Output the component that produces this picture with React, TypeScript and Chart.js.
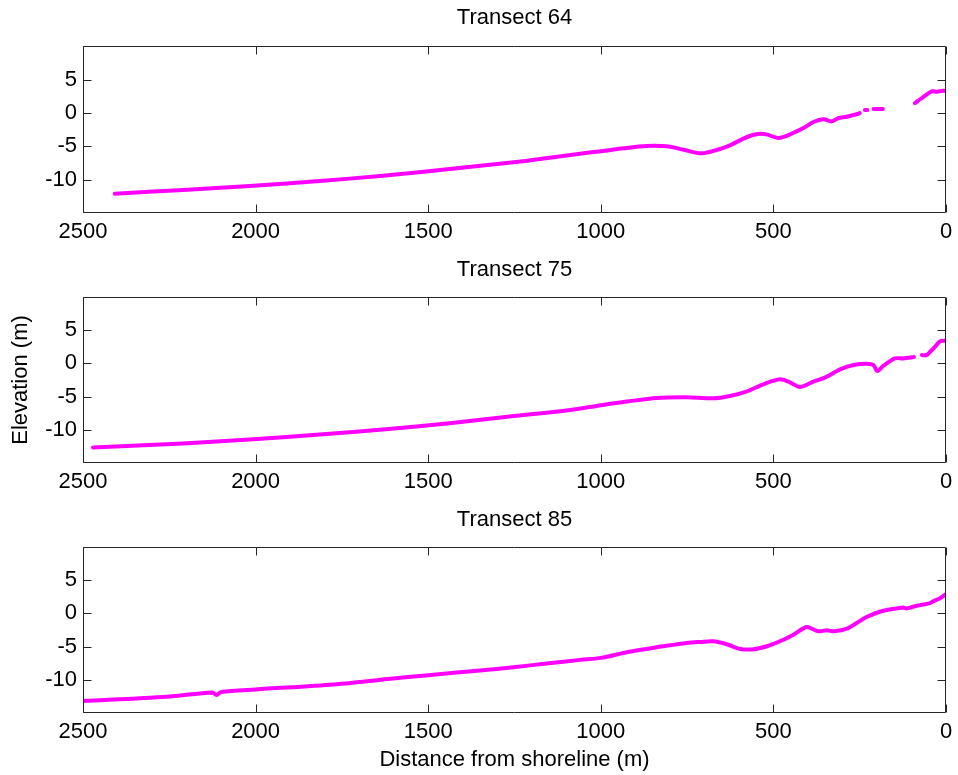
import React, { useEffect, useRef } from 'react';
import { Chart, registerables } from 'chart.js';

Chart.register(...registerables);

const FONT = '"Liberation Sans", Arial, Helvetica, sans-serif';
const LINE_COLOR = '#FF00FF';
const AXIS_COLOR = '#262626';

// Axis tick positions (distance in m, elevation in m)
const distanceTicks = [0, 500, 1000, 1500, 2000, 2500];
const elevationTicks = [-10, -5, 0, 5];

// Transect 64 profile (null marks a gap in the survey)
const dist64 = [2408, 2210, 2017, 1824, 1631, 1438, 1245, 1148, 1060, 993, 935, 867, 809, 760, 708, 655, 626, 587, 560, 539, 520, 486, 460, 437, 413, 384, 355, 331, 312, 288, 254, 250, 242, 235, 228, 220, 210, 183, 150, 90, 66, 41, 26, 0];
const elev64 = [-12.1, -11.55, -10.95, -10.25, -9.4, -8.4, -7.35, -6.7, -6.1, -5.7, -5.3, -4.95, -5.0, -5.5, -6.05, -5.4, -4.85, -3.85, -3.3, -3.1, -3.2, -3.75, -3.4, -2.85, -2.25, -1.35, -0.95, -1.25, -0.75, -0.55, -0.1, 0.0, null, 0.45, 0.45, null, 0.6, 0.6, null, 1.5, 2.4, 3.25, 3.2, 3.4];

// Transect 75 profile
const dist75 = [2471, 2210, 2017, 1824, 1631, 1438, 1245, 1100, 993, 925, 838, 751, 674, 626, 578, 529, 481, 452, 423, 384, 351, 307, 268, 230, 210, 199, 181, 148, 124, 93, 80, 70, 56, 46, 30, 17, 0];
const elev75 = [-12.65, -12.05, -11.45, -10.75, -9.95, -9.0, -7.9, -7.1, -6.25, -5.75, -5.2, -5.1, -5.25, -4.9, -4.25, -3.15, -2.4, -2.85, -3.55, -2.75, -2.15, -0.9, -0.25, -0.05, -0.25, -1.15, -0.35, 0.75, 0.75, 0.95, null, 1.25, 1.25, 1.75, 2.6, 3.35, 3.4];

// Transect 85 profile
const dist85 = [2500, 2257, 2125, 2113, 2100, 2000, 1774, 1582, 1500, 1350, 1253, 1157, 1060, 1000, 925, 867, 819, 751, 712, 674, 635, 596, 558, 519, 481, 442, 405, 389, 370, 346, 322, 283, 259, 230, 181, 123, 114, 85, 46, 38, 17, 0];
const elev85 = [-13.2, -12.55, -11.9, -12.3, -11.85, -11.45, -10.7, -9.7, -9.3, -8.6, -8.1, -7.55, -7.0, -6.7, -5.85, -5.35, -4.95, -4.45, -4.3, -4.2, -4.65, -5.35, -5.4, -4.95, -4.2, -3.2, -2.05, -2.3, -2.7, -2.55, -2.7, -2.2, -1.45, -0.55, 0.4, 0.9, 0.75, 1.15, 1.55, 1.8, 2.3, 2.9];

type Panel = {
  title: string;
  dist: number[];
  elev: (number | null)[];
  top: number;
  height: number;
  titlePad: { top: number; bottom: number };
  xHeight: number;
  yTitle?: string;
  xTitle?: string;
};

const panels: Panel[] = [
  { title: 'Transect 64', dist: dist64, elev: elev64, top: 0, height: 250, titlePad: { top: 5, bottom: 15 }, xHeight: 37 },
  { title: 'Transect 75', dist: dist75, elev: elev75, top: 250, height: 250, titlePad: { top: 7, bottom: 13.6 }, xHeight: 37, yTitle: 'Elevation (m)' },
  { title: 'Transect 85', dist: dist85, elev: elev85, top: 500, height: 275, titlePad: { top: 7, bottom: 13.6 }, xHeight: 62, xTitle: 'Distance from shoreline (m)' },
];

// Box around the plot area with inward-pointing tick marks on all four sides
const framePlugin = {
  id: 'frame',
  afterDatasetsDraw(chart: any) {
    const { ctx, chartArea: a, scales } = chart;
    const tick = 8;
    const l = Math.round(a.left) + 0.5;
    const r = Math.round(a.right) - 0.5;
    const t = Math.round(a.top) + 0.5;
    const b = Math.round(a.bottom) - 0.5;
    ctx.save();
    ctx.strokeStyle = AXIS_COLOR;
    ctx.lineWidth = 1;
    ctx.beginPath();
    ctx.rect(l, t, r - l, b - t);
    scales.x.ticks.forEach((tk: any) => {
      const px = Math.round(scales.x.getPixelForValue(tk.value)) + 0.5;
      ctx.moveTo(px, b);
      ctx.lineTo(px, b - tick);
      ctx.moveTo(px, t);
      ctx.lineTo(px, t + tick);
    });
    scales.y.ticks.forEach((tk: any) => {
      const py = Math.round(scales.y.getPixelForValue(tk.value)) + 0.5;
      ctx.moveTo(l, py);
      ctx.lineTo(l + tick, py);
      ctx.moveTo(r, py);
      ctx.lineTo(r - tick, py);
    });
    ctx.stroke();
    ctx.restore();
  },
};

function ProfileChart({ panel }: { panel: Panel }) {
  const ref = useRef<HTMLCanvasElement | null>(null);

  useEffect(() => {
    if (!ref.current) return;
    const points = panel.dist.map((d, i) => ({ x: d, y: panel.elev[i] }));
    const chart = new Chart(ref.current, {
      type: 'scatter',
      data: {
        datasets: [
          {
            data: points as any,
            showLine: true,
            spanGaps: false,
            borderColor: LINE_COLOR,
            borderWidth: 4,
            tension: 0.3,
            pointRadius: 0,
            pointHoverRadius: 0,
            borderCapStyle: 'round',
            borderJoinStyle: 'round',
          },
        ],
      },
      options: {
        animation: false,
        responsive: false,
        devicePixelRatio: 1,
        events: [],
        layout: { padding: { left: 0, right: 12, top: 0, bottom: 0 } },
        plugins: {
          legend: { display: false },
          tooltip: { enabled: false },
          title: {
            display: true,
            text: panel.title,
            fullSize: false,
            color: '#000',
            font: { family: FONT, size: 22, weight: 'normal' },
            padding: panel.titlePad,
          },
        },
        scales: {
          x: {
            type: 'linear',
            reverse: true,
            min: 0,
            max: 2500,
            afterBuildTicks: (s: any) => {
              s.ticks = distanceTicks.map((v) => ({ value: v }));
            },
            afterFit: (s: any) => {
              s.height = panel.xHeight;
            },
            grid: { display: false, drawTicks: false },
            border: { display: false },
            ticks: {
              color: '#000',
              font: { family: FONT, size: 22 },
              padding: 6,
              maxRotation: 0,
              minRotation: 0,
              autoSkip: false,
              callback: (v: any) => String(v),
            },
            title: {
              display: !!panel.xTitle,
              text: panel.xTitle || '',
              color: '#000',
              font: { family: FONT, size: 22 },
              padding: { top: 0, bottom: 2 },
            },
          },
          y: {
            type: 'linear',
            min: -15,
            max: 10,
            afterBuildTicks: (s: any) => {
              s.ticks = elevationTicks.map((v) => ({ value: v }));
            },
            afterFit: (s: any) => {
              s.width = 83;
            },
            grid: { display: false, drawTicks: false },
            border: { display: false },
            ticks: {
              color: '#000',
              font: { family: FONT, size: 22 },
              padding: 6,
              callback: (v: any) => String(v),
            },
            title: {
              display: !!panel.yTitle,
              text: panel.yTitle || '',
              color: '#000',
              font: { family: FONT, size: 22 },
              padding: { top: 8, bottom: 0 },
            },
          },
        },
      },
      plugins: [framePlugin],
    });
    return () => chart.destroy();
  }, [panel]);

  return (
    <div style={{ position: 'absolute', left: 0, top: panel.top, width: 958, height: panel.height }}>
      <canvas ref={ref} width={958} height={panel.height} style={{ display: 'block' }} />
    </div>
  );
}

export default function App() {
  return (
    <div style={{ position: 'absolute', left: 0, top: 0, width: 958, height: 775, background: '#fff' }}>
      {panels.map((p) => (
        <ProfileChart key={p.title} panel={p} />
      ))}
    </div>
  );
}
